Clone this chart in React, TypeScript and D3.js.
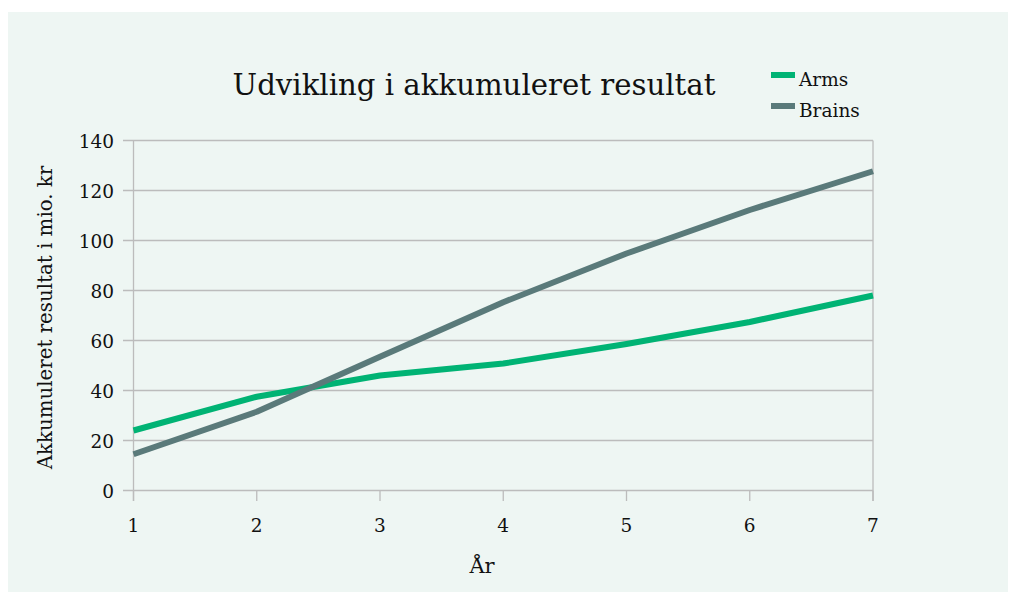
import React from "react";
import * as d3 from "d3";

const years = [1, 2, 3, 4, 5, 6, 7];
const arms = [24, 37.5, 46, 50.8, 58.6, 67.4, 78];
const brains = [14.5, 31.5, 53.5, 75.3, 94.8, 112.2, 127.7];
const yTicks = [0, 20, 40, 60, 80, 100, 120, 140];
const seriesNames = ["Arms", "Brains"];
const seriesColors = ["#00b374", "#5a7a7a"];

const W = 1016, H = 592;
const FONT = "'DejaVu Serif', serif";

export default function App() {
  const x = d3.scaleLinear().domain([1, 7]).range([133.5, 873]);
  const y = d3.scaleLinear().domain([0, 140]).range([490.5, 140.5]);
  const line = d3.line<number>().x((_, i) => x(years[i])).y((d) => y(d));
  const series = [arms, brains];
  return (
    <svg width={W} height={H} style={{ position: "absolute", left: 0, top: 0 }}>
      <rect x={8} y={12} width={1000} height={580} fill="#eef6f3" />
      <text x={474} y={95} textAnchor="middle" fontFamily={FONT} fontSize={29.2} fill="#111">
        Udvikling i akkumuleret resultat
      </text>
      {yTicks.map((t) => (
        <g key={t}>
          <line x1={123} x2={873} y1={y(t)} y2={y(t)} stroke="#bcbcbc" strokeWidth={1.3} />
          <text x={114} y={y(t) + 7} textAnchor="end" fontFamily={FONT} fontSize={18.5} fill="#111">
            {t}
          </text>
        </g>
      ))}
      <line x1={x(1)} x2={x(1)} y1={y(140)} y2={501} stroke="#bcbcbc" strokeWidth={1.3} />
      <line x1={x(7)} x2={x(7)} y1={y(140)} y2={501} stroke="#bcbcbc" strokeWidth={1.3} />
      {years.map((yr) => (
        <g key={yr}>
          <line x1={x(yr)} x2={x(yr)} y1={y(0)} y2={501} stroke="#bcbcbc" strokeWidth={1.3} />
          <text x={x(yr)} y={532} textAnchor="middle" fontFamily={FONT} fontSize={18.5} fill="#111">
            {yr}
          </text>
        </g>
      ))}
      {series.map((s, i) => (
        <path key={i} d={line(s) || ""} fill="none" stroke={seriesColors[i]} strokeWidth={6} strokeLinejoin="round" />
      ))}
      <text x={482} y={573} textAnchor="middle" fontFamily={FONT} fontSize={21} fill="#111">
        År
      </text>
      <text
        transform={`translate(52, 317.5) rotate(-90)`}
        textAnchor="middle"
        fontFamily={FONT}
        fontSize={19.8}
        fill="#111"
      >
        Akkumuleret resultat i mio. kr
      </text>
      {seriesNames.map((n, i) => (
        <g key={n}>
          <line x1={771} x2={795} y1={75 + i * 31} y2={75 + i * 31} stroke={seriesColors[i]} strokeWidth={6} />
          <text x={799} y={86 + i * 31} fontFamily={FONT} fontSize={18.5} fill="#111">
            {n}
          </text>
        </g>
      ))}
    </svg>
  );
}
